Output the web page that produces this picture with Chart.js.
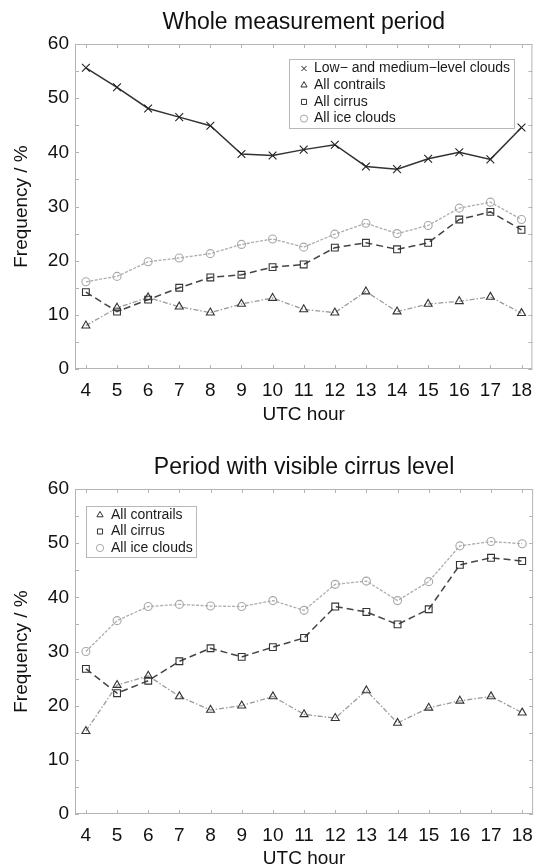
<!DOCTYPE html>
<html><head><meta charset="utf-8">
<script src="https://cdn.jsdelivr.net/npm/chart.js@4"></script>
<style>
html,body{margin:0;padding:0;background:#fff;}
.box{position:absolute;left:0;width:539px;height:433px;}
</style>
</head><body>
<div class="box" style="top:0"><canvas id="c1"></canvas></div>
<div class="box" style="top:433px"><canvas id="c2"></canvas></div>
<script>
// ---- data ----
const hours = [4,5,6,7,8,9,10,11,12,13,14,15,16,17,18];
const yTickValues = [0,10,20,30,40,50,60];
const titleTop = 'Whole measurement period';
const titleBottom = 'Period with visible cirrus level';
const seriesLabels = ['Low\u2212 and medium\u2212level clouds','All contrails','All cirrus','All ice clouds'];

const wholeLowMedium = [55.6,52.0,48.1,46.5,44.9,39.7,39.4,40.5,41.4,37.4,36.9,38.8,40.0,38.7,44.6];
const wholeContrails = [8.0,11.3,13.2,11.5,10.4,12.0,13.1,11.0,10.4,14.3,10.6,12.0,12.5,13.3,10.3];
const wholeCirrus    = [14.2,10.6,12.8,15.0,16.9,17.4,18.8,19.3,22.4,23.3,22.1,23.3,27.6,29.0,25.7];
const wholeIce       = [16.1,17.1,19.8,20.5,21.3,23.0,24.0,22.5,24.9,26.9,25.0,26.5,29.7,30.8,27.6];

const visContrails = [15.3,23.8,25.5,21.7,19.2,20.0,21.7,18.4,17.7,22.8,16.8,19.6,20.9,21.7,18.7];
const visCirrus    = [26.8,22.3,24.6,28.2,30.6,29.0,30.8,32.5,38.3,37.3,35.0,37.8,46.0,47.3,46.7];
const visIce       = [30.0,35.7,38.3,38.7,38.4,38.3,39.4,37.6,42.4,43.0,39.4,42.9,49.5,50.3,49.9];

// ---- styles ----
const FONT = "'Liberation Sans', Arial, Helvetica, sans-serif";
const pts = arr => hours.map((h,i)=>({x:h,y:arr[i]}));

const styleLow = {borderColor:'#333',borderWidth:1.5,pointStyle:'crossRot',pointRadius:5.5,pointBorderColor:'#222',pointBackgroundColor:'rgba(0,0,0,0)',pointBorderWidth:1.1};
const styleCon = {borderColor:'#9a9a9a',borderWidth:1.3,borderDash:[5,2,1.5,2],pointStyle:'triangle',pointRadius:4.6,pointBorderColor:'#333',pointBackgroundColor:'rgba(0,0,0,0)',pointBorderWidth:1.1};
const styleCir = {borderColor:'#444',borderWidth:1.5,borderDash:[7,4],pointStyle:'rect',pointRadius:4.8,pointBorderColor:'#333',pointBackgroundColor:'rgba(0,0,0,0)',pointBorderWidth:1.1};
const styleIce = {borderColor:'#adadad',borderWidth:1.3,borderDash:[3,1.5],pointStyle:'circle',pointRadius:4,pointBorderColor:'#a8a8a8',pointBackgroundColor:'rgba(0,0,0,0)',pointBorderWidth:1.1};

function ds(label, arr, st){
  return Object.assign({label, data: pts(arr), tension:0, fill:false, pointHoverRadius: st.pointRadius}, st);
}

// frame + inward ticks, title, legend
const framePlugin = {
  id:'frame',
  beforeDatasetsDraw(chart){
    const {ctx, chartArea:a, scales:{x,y}} = chart;
    ctx.save();
    ctx.strokeStyle = '#b4b4b4';
    ctx.lineWidth = 1;
    ctx.strokeRect(a.left+0.5, a.top+0.5, a.right-a.left-1, a.bottom-a.top-1);
    const L = 4;
    ctx.beginPath();
    hours.forEach(h=>{
      const px = Math.round(x.getPixelForValue(h))+0.5;
      ctx.moveTo(px, a.bottom); ctx.lineTo(px, a.bottom-L);
      ctx.moveTo(px, a.top); ctx.lineTo(px, a.top+L);
    });
    for(let v=y.min; v<=y.max; v+=5){
      const py = Math.round(y.getPixelForValue(v))+0.5;
      ctx.moveTo(a.left, py); ctx.lineTo(a.left+L, py);
      ctx.moveTo(a.right, py); ctx.lineTo(a.right-L, py);
    }
    ctx.stroke();
    ctx.restore();
  },
  afterDraw(chart){
    const o = chart.options.plugins.frame;
    const {ctx, chartArea:a} = chart;
    ctx.save();
    ctx.fillStyle = '#111';
    ctx.font = o.titleSize + 'px ' + FONT;
    ctx.textAlign = 'center';
    ctx.textBaseline = 'middle';
    ctx.fillText(o.title, (a.left+a.right)/2, a.top - o.titleOffset);
    // legend
    const lg = o.legend;
    ctx.fillStyle = '#fff';
    ctx.fillRect(lg.x, lg.y, lg.w, lg.h);
    ctx.strokeStyle = '#b8b8b8';
    ctx.lineWidth = 1;
    ctx.strokeRect(lg.x+0.5, lg.y+0.5, lg.w, lg.h);
    ctx.font = lg.size + 'px ' + FONT;
    ctx.textAlign = 'left';
    chart.data.datasets.forEach((d,i)=>{
      const cy = lg.y + lg.first + i*lg.step;
      ctx.strokeStyle = d.pointBorderColor;
      ctx.fillStyle = 'rgba(0,0,0,0)';
      ctx.lineWidth = 1;
      Chart.helpers.drawPoint(ctx, {pointStyle:d.pointStyle, radius:lg.r, borderWidth:1, rotation:0}, lg.x + lg.mx, cy);
      ctx.fillStyle = '#1a1a1a';
      ctx.fillText(d.label, lg.x + lg.tx, cy);
    });
    ctx.restore();
  }
};

function makeChart(id, title, datasets, padTop, xH, xTitlePad, legend){
  return new Chart(document.getElementById(id), {
    type:'line',
    data:{datasets},
    plugins:[framePlugin],
    options:{
      responsive:true, maintainAspectRatio:false, animation:false, devicePixelRatio:1,
      layout:{padding:{top:padTop, right:4, left:0, bottom:0}},
      plugins:{
        legend:{display:false}, tooltip:{enabled:false}, title:{display:false},
        frame:{title, titleSize:23, titleOffset:21, legend}
      },
      scales:{
        x:{type:'linear', min:3.65, max:18.35,
           afterBuildTicks:s=>{s.ticks = hours.map(v=>({value:v}));},
           afterFit:s=>{s.height = xH; s.paddingLeft = 0; s.paddingRight = 0;},
           grid:{display:false, drawTicks:false}, border:{display:false},
           ticks:{font:{family:FONT,size:19}, color:'#111', padding:10, autoSkip:false, maxRotation:0},
           title:{display:true, text:'UTC hour', color:'#111', font:{family:FONT,size:19,lineHeight:0.8}, padding:{top:0,bottom:xTitlePad}}
        },
        y:{min:0, max:60,
           afterBuildTicks:s=>{s.ticks = yTickValues.map(v=>({value:v}));},
           afterFit:s=>{s.width = 75; s.paddingTop = 0; s.paddingBottom = 0;},
           grid:{display:false, drawTicks:false}, border:{display:false},
           ticks:{font:{family:FONT,size:19}, color:'#111', padding:6},
           title:{display:true, text:'Frequency / %', color:'#111', font:{family:FONT,size:19,lineHeight:1.2}, padding:{top:10,bottom:0}}
        }
      }
    }
  });
}

makeChart('c1', titleTop, [
  ds(seriesLabels[0], wholeLowMedium, styleLow),
  ds(seriesLabels[1], wholeContrails, styleCon),
  ds(seriesLabels[2], wholeCirrus, styleCir),
  ds(seriesLabels[3], wholeIce, styleIce)
], 44, 64, 11, {x:289, y:59, w:225, h:69, first:9.5, step:16.7, mx:15, tx:25, r:3.6, size:14});

makeChart('c2', titleBottom, [
  ds(seriesLabels[1], visContrails, styleCon),
  ds(seriesLabels[2], visCirrus, styleCir),
  ds(seriesLabels[3], visIce, styleIce)
], 56, 52, 0, {x:86, y:73, w:110, h:51, first:9, step:16.5, mx:14, tx:25, r:3.6, size:14});
</script>
</body></html>
